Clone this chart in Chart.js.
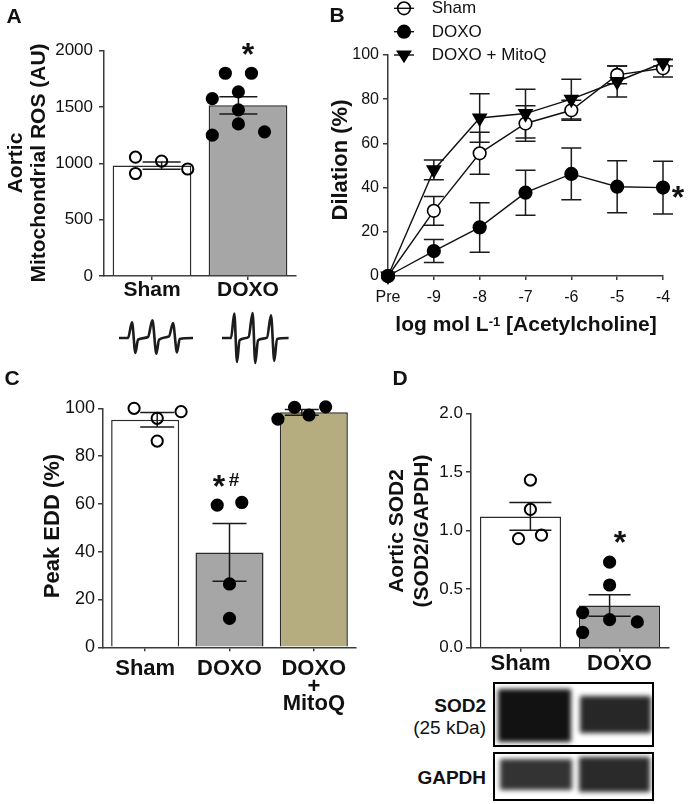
<!DOCTYPE html>
<html><head><meta charset="utf-8">
<script src="https://cdn.jsdelivr.net/npm/chart.js@4.4.0/dist/chart.umd.min.js"></script>
<style>
html,body{margin:0;padding:0;background:#fff;}
#root{position:relative;width:688px;height:804px;overflow:hidden;font-family:'Liberation Sans',Arial,sans-serif;color:#111;background:#fff;}
canvas{position:absolute;}
.t{position:absolute;white-space:nowrap;line-height:1;}
.blot{position:absolute;box-sizing:border-box;border:2px solid #000;background:#fff;overflow:hidden;}
.band{position:absolute;filter:blur(2.6px);}
</style></head><body><div id="root"></div>
<script>
// ================= DATA =================
// Panel A - aortic mitochondrial ROS (AU)
const aCategories = ['Sham', 'DOXO'];
const aMeans = [980, 1515];
const aSems = [33, 77];
const aShamValues = [1055, 910, 1020, 950];
const aShamJitter = [-0.34, -0.34, 0, 0.34];
const aDoxoValues = [1800, 1800, 1575, 1635, 1475, 1350, 1250, 1280];
const aDoxoJitter = [-0.17, 0.17, -0.34, 0, 0, 0, -0.34, 0.34];
const aTicks = [0, 500, 1000, 1500, 2000];
// Panel A - representative EPR spectra (field offset, signal)
const eprShamField  = [0, 9, 13, 16.4, 19, 29, 33.4, 37.4, 40, 50, 54, 58, 60.7, 74];
const eprShamSignal = [0, 0, 15.6, -15, -1.7, 1, 17.6, -15.7, -1.7, 1.6, 15, -14.4, -1, 0];
const eprDoxoField  = [0, 9, 12.3, 15, 17.6, 26.6, 30.6, 33.3, 36, 45, 49, 52.3, 55, 66.6];
const eprDoxoSignal = [0, 0, 24.4, -24, -2.3, 1, 25, -25, -2.3, 0.4, 22.7, -23, -1, 0];

// Panel B - dilation (%) vs log [ACh]
const bDoses = [-10, -9, -8, -7, -6, -5, -4];
const bDoseLabels = ['Pre', '-9', '-8', '-7', '-6', '-5', '-4'];
const bSeriesNames = ['Sham', 'DOXO', 'DOXO + MitoQ'];
const bSham = [0, 29.5, 55.5, 69, 75, 91, 94];
const bShamSem = [0, 6.5, 9.5, 8, 4.5, 4, 4];
const bDoxo = [0, 11.3, 22, 37.7, 46.2, 40.4, 40];
const bDoxoSem = [0, 5.2, 11.2, 10.2, 11.7, 11.8, 11.9];
const bMitoq = [0, 48, 71.5, 73.5, 80, 88, 96.5];
const bMitoqSem = [0, 4.5, 11, 11, 9, 7, 1.5];
const bTicks = [0, 20, 40, 60, 80, 100];

// Panel C - peak EDD (%)
const cCategories = ['Sham', 'DOXO', ['DOXO', '+', 'MitoQ']];
const cMeans = [95.2, 39.7, 98.3];
const cSems = [3, 12.1, 1.2];
const cShamValues = [100, 95.8, 86.3, 98.6];
const cShamJitter = [-0.32, 0, 0, 0.33];
const cDoxoValues = [59.5, 60.6, 26.5, 12.1];
const cDoxoJitter = [-0.17, 0.17, 0, 0];
const cMitoqValues = [95.5, 100.4, 97.2, 100.6];
const cMitoqJitter = [-0.33, -0.1, 0.1, 0.33];
const cTicks = [0, 20, 40, 60, 80, 100];

// Panel D - aortic SOD2 (SOD2/GAPDH)
const dCategories = ['Sham', 'DOXO'];
const dMeans = [1.12, 0.36];
const dSems = [0.118, 0.092];
const dShamValues = [1.43, 1.18, 0.93, 0.96];
const dShamJitter = [0, 0, -0.15, 0.14];
const dDoxoValues = [0.73, 0.535, 0.24, 0.30, 0.13, 0.22];
const dDoxoJitter = [0, 0, 0, -0.34, -0.34, 0.35];
const dTicks = [0, 0.5, 1.0, 1.5, 2.0];

// ================= HELPERS =================
const FONT = "'Liberation Sans', Arial, sans-serif";
const AXIS = '#3a3a3a';
const INK = '#111';
Chart.defaults.font.family = FONT;
Chart.defaults.color = INK;
Chart.defaults.animation = false;
Chart.defaults.plugins.legend.display = false;
Chart.defaults.plugins.tooltip.enabled = false;

const root = document.getElementById('root');
function mk(left, top, w, h) {
  const c = document.createElement('canvas');
  c.width = w; c.height = h;
  c.style.left = left + 'px'; c.style.top = top + 'px';
  c.style.width = w + 'px'; c.style.height = h + 'px';
  root.appendChild(c);
  return c;
}
function txt(html, x, y, size, bold, opt) {
  opt = opt || {};
  const d = document.createElement('div');
  d.className = 't';
  d.innerHTML = html;
  d.style.left = x + 'px'; d.style.top = y + 'px';
  d.style.fontSize = size + 'px';
  d.style.fontWeight = bold ? 'bold' : 'normal';
  let tr = opt.anchor === 'right' ? 'translate(-100%,-50%)' : 'translate(-50%,-50%)';
  if (opt.rot) tr += ' rotate(-90deg)';
  d.style.transform = tr;
  root.appendChild(d);
  return d;
}
function star(sym, cx, cy, size) {
  const d = document.createElement('div');
  d.className = 't';
  d.textContent = sym;
  d.style.fontSize = size + 'px'; d.style.fontWeight = 'bold';
  d.style.left = cx + 'px'; d.style.top = (cy - 0.29 * size) + 'px';
  d.style.transform = 'translateX(-50%)';
  root.appendChild(d);
}
function makeErrorPlugin(cfg) {
  function draw(chart) {
    const ctx = chart.ctx, xs = chart.scales[cfg.xAxis], ys = chart.scales.y;
    ctx.save();
    ctx.strokeStyle = '#1a1a1a'; ctx.lineWidth = 1.5; ctx.lineCap = 'butt';
    cfg.sets.forEach(set => set.x.forEach((xv, i) => {
      const m = set.mean[i], e = set.sem[i];
      if (!e) return;
      const px = xs.getPixelForValue(xv);
      const top = ys.getPixelForValue(m + e), bot = ys.getPixelForValue(m - e);
      ctx.beginPath();
      ctx.moveTo(px, top); ctx.lineTo(px, bot);
      ctx.moveTo(px - cfg.cap, top); ctx.lineTo(px + cfg.cap, top);
      ctx.moveTo(px - cfg.cap, bot); ctx.lineTo(px + cfg.cap, bot);
      ctx.stroke();
    }));
    ctx.restore();
  }
  return {
    id: 'errorBars',
    beforeDatasetsDraw(chart) { if (cfg.when === 'before') draw(chart); },
    afterDatasetDraw(chart, args) { if (cfg.when === 'afterBar' && args.index === 0) draw(chart); }
  };
}
function yAxis(ticksArr, o) {
  return {
    type: 'linear', min: ticksArr[0], max: ticksArr[ticksArr.length - 1],
    afterBuildTicks: s => { s.ticks = ticksArr.map(v => ({ value: v })); },
    afterFit: s => { s.width = o.yW; },
    ticks: { font: { size: o.tickSize }, color: INK, padding: o.tickPad,
      callback: o.fmt || (v => v) },
    grid: { drawOnChartArea: false, drawTicks: true, tickLength: 5, color: AXIS, lineWidth: 1.5 },
    border: { display: true, color: AXIS, width: 1.5 }
  };
}
function barPanel(o) {
  const canvas = mk(o.left, o.top, o.w, o.h);
  const n = o.categories.length;
  const datasets = [{
    type: 'bar', data: o.means, backgroundColor: o.fills, borderColor: '#2b2b2b',
    borderWidth: 1.5, borderSkipped: 'start', categoryPercentage: 1, barPercentage: o.barFrac,
    grouped: false, xAxisID: 'x', yAxisID: 'y', order: 2
  }];
  o.groups.forEach(g => datasets.push({
    type: 'scatter', xAxisID: 'xs', yAxisID: 'y', order: 1, clip: false,
    data: g.values.map((v, i) => ({ x: g.index + g.jitter[i], y: v })),
    pointRadius: 5.6, pointBorderWidth: 2, pointBorderColor: '#000',
    pointBackgroundColor: g.open ? 'rgba(0,0,0,0)' : '#000'
  }));
  new Chart(canvas, {
    type: 'bar',
    data: { labels: o.categories, datasets },
    options: {
      responsive: false, animation: false,
      layout: { padding: { top: o.padTop, right: o.padRight, left: 0, bottom: 0 } },
      scales: {
        x: {
          type: 'category', offset: true,
          afterFit: s => { s.height = o.xH; },
          grid: { offset: false, drawOnChartArea: false, drawTicks: true, tickLength: 4, color: AXIS, lineWidth: 1.5 },
          border: { display: true, color: AXIS, width: 1.5 },
          ticks: { font: { size: o.catSize, weight: 'bold', lineHeight: o.catLH }, color: INK,
            padding: o.catPad, maxRotation: 0, autoSkip: false }
        },
        xs: { type: 'linear', display: false, min: -0.5, max: n - 0.5 },
        y: yAxis(o.ticks, o)
      }
    },
    plugins: [makeErrorPlugin({ xAxis: 'xs', when: 'afterBar', cap: o.cap,
      sets: [{ x: o.means.map((m, i) => i), mean: o.means, sem: o.sems }] })]
  });
}
function eprPanel(left, top, field, signal) {
  const c = mk(left, top, 78, 64);
  new Chart(c, {
    type: 'line',
    data: { datasets: [{ data: field.map((x, i) => ({ x, y: signal[i] })), borderColor: '#1c1c1c',
      borderWidth: 2.6, pointRadius: 0, cubicInterpolationMode: 'monotone', clip: false }] },
    options: { responsive: false, animation: false, layout: { padding: 0 },
      scales: { x: { type: 'linear', display: false, min: 0, max: 78 },
                y: { type: 'linear', display: false, min: -32, max: 32 } } }
  });
}

// ================= PANEL A =================
barPanel({
  left: 0, top: 0, w: 320, h: 300, padTop: 50.7, padRight: 24, yW: 104, xH: 24,
  categories: aCategories, means: aMeans, sems: aSems, fills: ['#ffffff', '#a6a6a6'], barFrac: 0.82,
  groups: [{ index: 0, values: aShamValues, jitter: aShamJitter, open: true },
           { index: 1, values: aDoxoValues, jitter: aDoxoJitter, open: false }],
  ticks: aTicks, tickSize: 17, tickPad: 6, catSize: 21, catLH: 1, catPad: 0, cap: 19
});
eprPanel(119, 306, eprShamField, eprShamSignal);
eprPanel(222, 306, eprDoxoField, eprDoxoSignal);
txt('A', 14, 15, 21, true);
txt('Aortic', 14, 163, 21, true, { rot: true });
txt('Mitochondrial ROS (AU)', 37, 163, 21, true, { rot: true });
star('*', 248, 47, 32);

// ================= PANEL B =================
(function () {
  const canvas = mk(330, 0, 358, 345);
  const series = [
    { name: bSeriesNames[0], y: bSham, sem: bShamSem, style: 'circle', fill: '#fff', r: 6.3, order: 3, legendFill: 'rgba(0,0,0,0)' },
    { name: bSeriesNames[1], y: bDoxo, sem: bDoxoSem, style: 'circle', fill: '#000', r: 6.3, order: 1, legendFill: '#000' },
    { name: bSeriesNames[2], y: bMitoq, sem: bMitoqSem, style: 'triangle', fill: '#000', r: 7.5, order: 2, legendFill: '#000' }
  ];
  const datasets = series.map(s => ({
    label: s.name, order: s.order, clip: false,
    data: bDoses.map((x, i) => ({ x, y: s.y[i] })),
    borderColor: '#111', borderWidth: 1.4, tension: 0,
    pointStyle: s.style, pointRotation: s.style === 'triangle' ? 180 : 0,
    pointRadius: s.r, pointBorderWidth: 1.6, pointBorderColor: '#000', pointBackgroundColor: s.fill
  }));
  const legendPlugin = {
    id: 'miniLegend',
    afterDraw(chart) {
      const ctx = chart.ctx;
      const rows = [8.3, 31.7, 55];
      ctx.save();
      series.forEach((s, i) => {
        const y = rows[i], cx = 74;
        ctx.strokeStyle = '#111'; ctx.lineWidth = 1.4;
        ctx.beginPath(); ctx.moveTo(64, y); ctx.lineTo(84, y); ctx.stroke();
        ctx.lineWidth = 1.6; ctx.strokeStyle = '#000'; ctx.fillStyle = s.legendFill;
        ctx.beginPath();
        if (s.style === 'circle') {
          ctx.arc(cx, y, s.r, 0, Math.PI * 2);
        } else {
          const h = s.r * 0.9;
          ctx.moveTo(cx - s.r * 0.87, y - h * 0.55); ctx.lineTo(cx + s.r * 0.87, y - h * 0.55);
          ctx.lineTo(cx, y + h); ctx.closePath();
        }
        ctx.fill(); ctx.stroke();
        ctx.fillStyle = INK; ctx.font = '17px ' + FONT; ctx.textBaseline = 'middle'; ctx.textAlign = 'left';
        ctx.fillText(s.name, 101.7, y + 0.5);
      });
      ctx.restore();
    }
  };
  new Chart(canvas, {
    type: 'line',
    data: { datasets },
    options: {
      responsive: false, animation: false,
      layout: { padding: { top: 55, right: 25, left: 0, bottom: 0 } },
      scales: {
        x: {
          type: 'linear', min: bDoses[0], max: bDoses[bDoses.length - 1],
          afterBuildTicks: s => { s.ticks = bDoses.map(v => ({ value: v })); },
          afterFit: s => { s.height = 69; },
          ticks: { font: { size: 16, lineHeight: 1 }, color: INK, padding: 9.5, maxRotation: 0, autoSkip: false,
            callback: (v, i) => bDoseLabels[i] },
          grid: { drawOnChartArea: false, drawTicks: true, tickLength: 4, color: AXIS, lineWidth: 1.5 },
          border: { display: true, color: AXIS, width: 1.5 }
        },
        y: yAxis(bTicks, { yW: 58, tickSize: 16, tickPad: 4 })
      }
    },
    plugins: [makeErrorPlugin({ xAxis: 'x', when: 'before', cap: 10,
      sets: series.map(s => ({ x: bDoses, mean: s.y, sem: s.sem })) }), legendPlugin]
  });
})();
txt('B', 337, 14, 21, true);
txt('Dilation (%)', 340, 160, 22, true, { rot: true });
txt('log mol L<span style="position:relative;top:-0.42em;font-size:0.62em">-1</span> [Acetylcholine]', 526, 323, 21, true);
star('*', 678, 190, 32);

// ================= PANEL C =================
barPanel({
  left: 0, top: 385, w: 370, h: 340, padTop: 23.3, padRight: 14, yW: 103, xH: 77.7,
  categories: cCategories, means: cMeans, sems: cSems, fills: ['#ffffff', '#a6a6a6', '#b5ad7f'], barFrac: 0.807,
  groups: [{ index: 0, values: cShamValues, jitter: cShamJitter, open: true },
           { index: 1, values: cDoxoValues, jitter: cDoxoJitter, open: false },
           { index: 2, values: cMitoqValues, jitter: cMitoqJitter, open: false }],
  ticks: cTicks, tickSize: 18, tickPad: 3, catSize: 22, catLH: 0.8, catPad: 9, cap: 17
});
txt('C', 12, 377, 21, true);
txt('Peak EDD (%)', 52, 526, 22, true, { rot: true });
star('*', 219, 479, 32);
txt('#', 234, 479, 19, true);

// ================= PANEL D =================
barPanel({
  left: 370, top: 385, w: 318, h: 290, padTop: 28.3, padRight: 19, yW: 101, xH: 27.3,
  categories: dCategories, means: dMeans, sems: dSems, fills: ['#ffffff', '#a6a6a6'], barFrac: 0.82,
  groups: [{ index: 0, values: dShamValues, jitter: dShamJitter, open: true },
           { index: 1, values: dDoxoValues, jitter: dDoxoJitter, open: false }],
  ticks: dTicks, tickSize: 17, tickPad: 3, catSize: 22, catLH: 1, catPad: 1, cap: 21,
  fmt: v => Number(v).toFixed(1)
});
txt('D', 400, 377, 21, true);
txt('Aortic SOD2', 395, 531, 21, true, { rot: true });
txt('(SOD2/GAPDH)', 420, 531, 21, true, { rot: true });
star('*', 620, 535, 32);

// Western blot image
function blot(left, top, w, h, bands) {
  const b = document.createElement('div');
  b.className = 'blot';
  b.style.left = left + 'px'; b.style.top = top + 'px';
  b.style.width = w + 'px'; b.style.height = h + 'px';
  bands.forEach(bd => {
    const e = document.createElement('div');
    e.className = 'band';
    e.style.left = bd[0] + 'px'; e.style.top = bd[1] + 'px';
    e.style.width = bd[2] + 'px'; e.style.height = bd[3] + 'px';
    e.style.background = bd[4];
    b.appendChild(e);
  });
  root.appendChild(b);
}
blot(493, 682, 161, 65, [[3, 5, 73, 53, '#121212'], [85, 12, 71, 37, '#272727']]);
blot(493, 752, 161, 49, [[5, 5, 72, 31, '#333333'], [84, 3, 71, 35, '#2a2a2a']]);
txt('SOD2', 486, 705, 19, true, { anchor: 'right' });
txt('(25 kDa)', 486, 727, 19, false, { anchor: 'right' });
txt('GAPDH', 486, 777, 19, true, { anchor: 'right' });
</script></body></html>
